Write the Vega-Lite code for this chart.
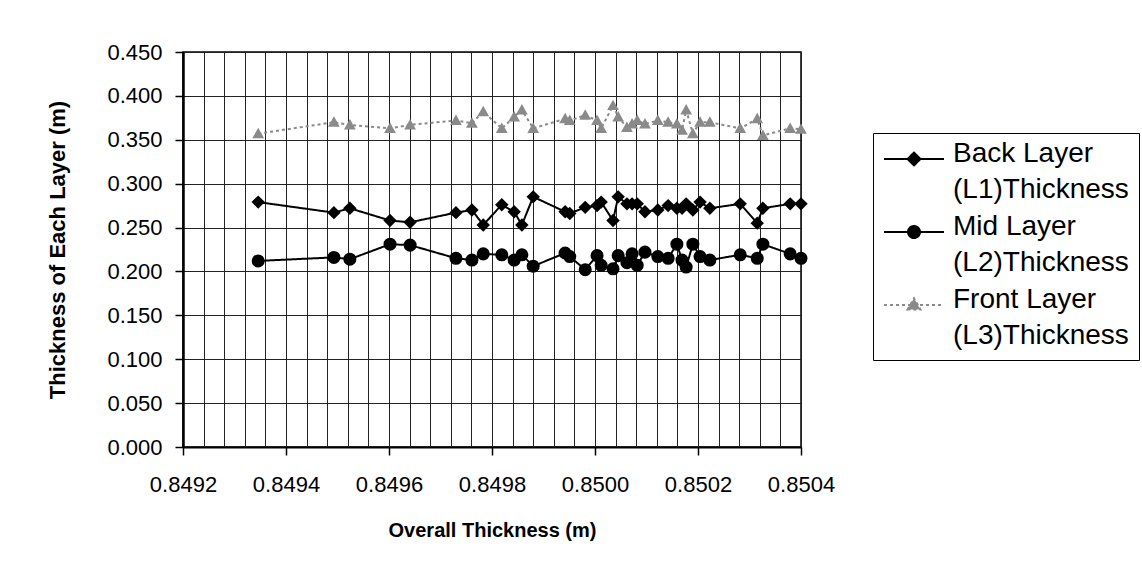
{
  "$schema": "https://vega.github.io/schema/vega-lite/v6.json",
  "width": 618,
  "height": 395,
  "autosize": {"type": "none"},
  "padding": {"left": 183, "top": 52, "right": 341, "bottom": 127},
  "background": "white",
  "config": {
    "font": "Liberation Sans",
    "view": {"stroke": "black", "strokeWidth": 1.5}
  },
  "data": {
    "values": [
      {"x": 0.849346, "L1": 0.279, "L2": 0.212, "L3": 0.357},
      {"x": 0.849493, "L1": 0.267, "L2": 0.216, "L3": 0.370},
      {"x": 0.849524, "L1": 0.272, "L2": 0.214, "L3": 0.367},
      {"x": 0.849602, "L1": 0.258, "L2": 0.231, "L3": 0.363},
      {"x": 0.849641, "L1": 0.256, "L2": 0.230, "L3": 0.367},
      {"x": 0.849730, "L1": 0.267, "L2": 0.215, "L3": 0.372},
      {"x": 0.849761, "L1": 0.270, "L2": 0.213, "L3": 0.369},
      {"x": 0.849783, "L1": 0.253, "L2": 0.220, "L3": 0.382},
      {"x": 0.849819, "L1": 0.276, "L2": 0.219, "L3": 0.363},
      {"x": 0.849843, "L1": 0.268, "L2": 0.213, "L3": 0.376},
      {"x": 0.849858, "L1": 0.253, "L2": 0.219, "L3": 0.384},
      {"x": 0.849880, "L1": 0.285, "L2": 0.206, "L3": 0.363},
      {"x": 0.849942, "L1": 0.268, "L2": 0.221, "L3": 0.374},
      {"x": 0.849951, "L1": 0.266, "L2": 0.217, "L3": 0.372},
      {"x": 0.849981, "L1": 0.273, "L2": 0.202, "L3": 0.378},
      {"x": 0.850004, "L1": 0.275, "L2": 0.218, "L3": 0.372},
      {"x": 0.850012, "L1": 0.279, "L2": 0.207, "L3": 0.363},
      {"x": 0.850035, "L1": 0.258, "L2": 0.203, "L3": 0.389},
      {"x": 0.850045, "L1": 0.285, "L2": 0.218, "L3": 0.376},
      {"x": 0.850062, "L1": 0.277, "L2": 0.210, "L3": 0.364},
      {"x": 0.850072, "L1": 0.277, "L2": 0.220, "L3": 0.368},
      {"x": 0.850082, "L1": 0.277, "L2": 0.207, "L3": 0.372},
      {"x": 0.850097, "L1": 0.268, "L2": 0.222, "L3": 0.368},
      {"x": 0.850122, "L1": 0.270, "L2": 0.217, "L3": 0.372},
      {"x": 0.850142, "L1": 0.275, "L2": 0.215, "L3": 0.370},
      {"x": 0.850159, "L1": 0.272, "L2": 0.231, "L3": 0.368},
      {"x": 0.850169, "L1": 0.272, "L2": 0.213, "L3": 0.361},
      {"x": 0.850177, "L1": 0.277, "L2": 0.205, "L3": 0.384},
      {"x": 0.850190, "L1": 0.270, "L2": 0.231, "L3": 0.357},
      {"x": 0.850204, "L1": 0.279, "L2": 0.217, "L3": 0.370},
      {"x": 0.850223, "L1": 0.272, "L2": 0.213, "L3": 0.370},
      {"x": 0.850282, "L1": 0.277, "L2": 0.219, "L3": 0.363},
      {"x": 0.850315, "L1": 0.255, "L2": 0.215, "L3": 0.374},
      {"x": 0.850326, "L1": 0.272, "L2": 0.231, "L3": 0.355},
      {"x": 0.850379, "L1": 0.277, "L2": 0.220, "L3": 0.363},
      {"x": 0.850400, "L1": 0.277, "L2": 0.215, "L3": 0.362}
    ]
  },
  "transform": [
    {"fold": ["L1", "L2", "L3"], "as": ["layer", "t"]}
  ],
  "encoding": {
    "x": {
      "field": "x",
      "type": "quantitative",
      "scale": {"domain": [0.8492, 0.8504], "nice": false, "zero": false},
      "axis": {
        "title": "Overall Thickness (m)",
        "titleFontSize": 20,
        "titleFontWeight": "bold",
        "titleColor": "black",
        "titleY": 83,
        "titleBaseline": "middle",
        "values": [0.8492, 0.84924, 0.84928, 0.84932, 0.84936, 0.8494, 0.84944, 0.84948, 0.84952, 0.84956, 0.8496, 0.84964, 0.84968, 0.84972, 0.84976, 0.8498, 0.84984, 0.84988, 0.84992, 0.84996, 0.85, 0.85004, 0.85008, 0.85012, 0.85016, 0.8502, 0.85024, 0.85028, 0.85032, 0.85036, 0.8504],
        "labelExpr": "abs(datum.value * 5000 - round(datum.value * 5000)) < 0.001 ? format(datum.value, '.4f') : ''",
        "labelFontSize": 22,
        "labelColor": "black",
        "labelPadding": 19,
        "labelOverlap": false,
        "labelFlush": false,
        "tickSize": 8,
        "tickColor": "black",
        "tickWidth": 1.5,
        "tickOpacity": {"condition": {"test": "abs(datum.value * 5000 - round(datum.value * 5000)) < 0.001", "value": 1}, "value": 0},
        "domainColor": "black",
        "domainWidth": 2,
        "grid": true,
        "gridColor": "#222222",
        "gridWidth": 1,
        "gridOpacity": 1
      }
    },
    "y": {
      "field": "t",
      "type": "quantitative",
      "scale": {"domain": [0, 0.45], "nice": false},
      "axis": {
        "title": "Thickness of Each Layer (m)",
        "titleFontSize": 22,
        "titleFontWeight": "bold",
        "titleColor": "black",
        "titleX": -126,
        "titleY": 197.5,
        "titleBaseline": "middle",
        "titleAlign": "center",
        "values": [0, 0.05, 0.1, 0.15, 0.2, 0.25, 0.3, 0.35, 0.4, 0.45],
        "format": ".3f",
        "labelFontSize": 22,
        "labelColor": "black",
        "labelPadding": 13,
        "tickSize": 8,
        "tickColor": "black",
        "tickWidth": 1.5,
        "domainColor": "black",
        "domainWidth": 2.5,
        "grid": true,
        "gridColor": "#222222",
        "gridWidth": 1,
        "gridOpacity": 1
      }
    },
    "color": {
      "field": "layer",
      "type": "nominal",
      "scale": {"domain": ["L1", "L2", "L3"], "range": ["#000000", "#000000", "#8a8a8a"]},
      "legend": {
        "title": null,
        "orient": "none",
        "legendX": 690,
        "legendY": 81,
        "direction": "vertical",
        "strokeColor": "black",
        "fillColor": "white",
        "padding": 10,
        "symbolSize": 900,
        "symbolStrokeWidth": 2,
        "labelFontSize": 28,
        "labelColor": "black",
        "labelOffset": 38,
        "labelLimit": 400,
        "labelBaseline": "alphabetic",
        "rowPadding": 9,
        "labelExpr": "datum.label == 'L1' ? ['Back Layer', '(L1)Thickness'] : datum.label == 'L2' ? ['Mid Layer', '(L2)Thickness'] : ['Front Layer', '(L3)Thickness']",
        "encode": {
          "symbols": {
            "update": {
              "shape": {"signal": "datum.value == 'L1' ? 'M-1,0H3M0.57,0L1,-0.43L1.43,0L1,0.43Z' : datum.value == 'L2' ? 'M-1,0H3M0.6,0A0.4,0.4 0 1,1 1.4,0A0.4,0.4 0 1,1 0.6,0Z' : 'M-1,0H3M0.57,0.3L1,-0.45L1.43,0.3Z'"},
              "stroke": {"signal": "datum.value == 'L3' ? '#9a9a9a' : 'black'"},
              "fill": {"signal": "datum.value == 'L3' ? '#8a8a8a' : 'black'"},
              "strokeDash": {"signal": "datum.value == 'L3' ? [3, 2] : [1, 0]"},
              "opacity": {"value": 1}
            }
          },
          "labels": {
            "update": {
              "lineHeight": {"value": 36},
              "dy": {"value": 3}
            }
          }
        }
      }
    }
  },
  "layer": [
    {
      "mark": {"type": "line", "strokeWidth": 2},
      "encoding": {
        "strokeDash": {
          "field": "layer",
          "type": "nominal",
          "scale": {"domain": ["L1", "L2", "L3"], "range": [[1, 0], [1, 0], [3, 3]]},
          "legend": null
        }
      }
    },
    {
      "transform": [{"filter": "datum.layer == 'L1'"}],
      "mark": {"type": "point", "filled": true, "opacity": 1, "size": 180, "shape": "M-1,0L0,-1L1,0L0,1Z"}
    },
    {
      "transform": [{"filter": "datum.layer == 'L2'"}],
      "mark": {"type": "point", "filled": true, "opacity": 1, "size": 170, "shape": "circle"}
    },
    {
      "transform": [{"filter": "datum.layer == 'L3'"}],
      "mark": {"type": "point", "filled": true, "opacity": 1, "size": 170, "shape": "M-0.9,0.7L0,-0.9L0.9,0.7Z"}
    }
  ]
}
